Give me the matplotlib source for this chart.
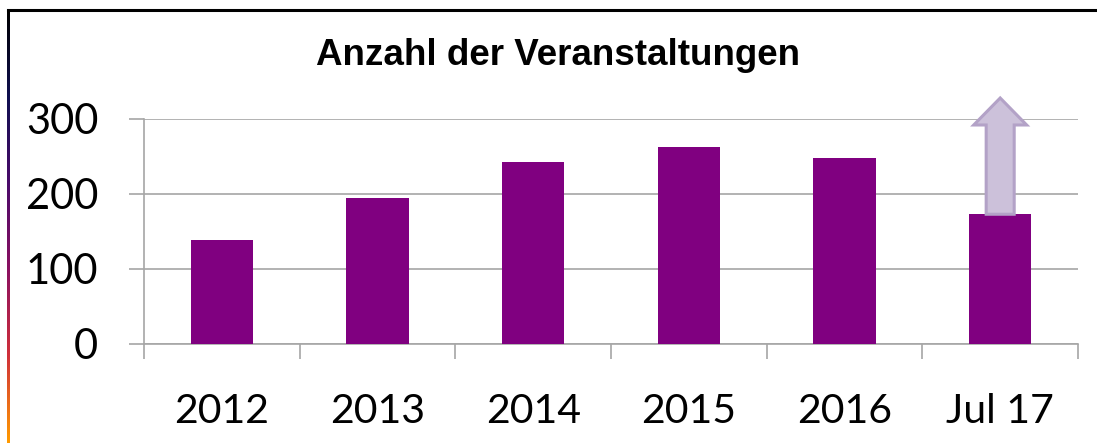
import numpy as np
import matplotlib.pyplot as plt
from matplotlib.colors import LinearSegmentedColormap
from matplotlib.patches import FancyArrow
from matplotlib.lines import Line2D

# Daten
jahre = ["2012", "2013", "2014", "2015", "2016", "Jul 17"]
anzahl = [139, 195, 243, 263, 248, 173]
pfeil_spitze = 328   # Pfeil über dem letzten Balken (Prognose)

titel = "Anzahl der Veranstaltungen"
y_ticks = [0, 100, 200, 300]

fig = plt.figure(figsize=(10.97, 4.43), dpi=100)
ax = fig.add_axes([0.1313, 0.2235, 0.8514, 0.5079])

x = np.arange(len(jahre))
ax.bar(x, anzahl, width=0.4, color="#800080", zorder=3)

# Pfeil auf dem letzten Balken
pfeil = FancyArrow(x[-1], anzahl[-1], 0, pfeil_spitze - anzahl[-1],
                   width=0.18, head_width=0.34, head_length=36,
                   length_includes_head=True, facecolor="#ccc1da",
                   edgecolor="#b3a2c7", linewidth=2.2, zorder=4,
                   clip_on=False)
ax.add_patch(pfeil)

grau = "#a6a6a6"
ax.set_xlim(-0.5, len(jahre) - 0.5)
ax.set_ylim(0, 300)
ax.set_yticks(y_ticks)
ax.yaxis.grid(True, color=grau, linewidth=1.2, zorder=0)
ax.set_xticks(x)
ax.set_xticklabels(jahre)
ax.set_xticks(np.arange(len(jahre) + 1) - 0.5, minor=True)

for s in ["top", "right"]:
    ax.spines[s].set_visible(False)
for s in ["left", "bottom"]:
    ax.spines[s].set_color(grau)
    ax.spines[s].set_linewidth(1.2)

ax.tick_params(axis="x", which="major", length=0, pad=35,
               labelsize=29.5)
ax.tick_params(axis="x", which="minor", length=11, width=1.2,
               color=grau, direction="out")
ax.tick_params(axis="y", length=11, width=1.2, color=grau, pad=22,
               labelsize=30)
for lab in ax.get_xticklabels() + ax.get_yticklabels():
    lab.set_fontfamily("Lato")

fig.text(0.5087, 0.875, titel, ha="center", va="center",
         fontsize=26.5, fontweight="bold", family="Liberation Sans")

# Rahmen: schwarze Linie oben, Farbverlauf links
fig.add_artist(Line2D([0.0075, 1.0], [0.977, 0.977], color="black",
                      linewidth=2.2, transform=fig.transFigure))
verlauf = LinearSegmentedColormap.from_list(
    "verlauf", ["#000000", "#101050", "#4a0a6a", "#8a1060",
                "#d0303a", "#ff9a00"])
lax = fig.add_axes([0.0065, 0.0, 0.0022, 0.977])
lax.imshow(np.linspace(0, 1, 200).reshape(-1, 1), aspect="auto",
           cmap=verlauf)
lax.axis("off")

fig.savefig("out.png", dpi=100)
